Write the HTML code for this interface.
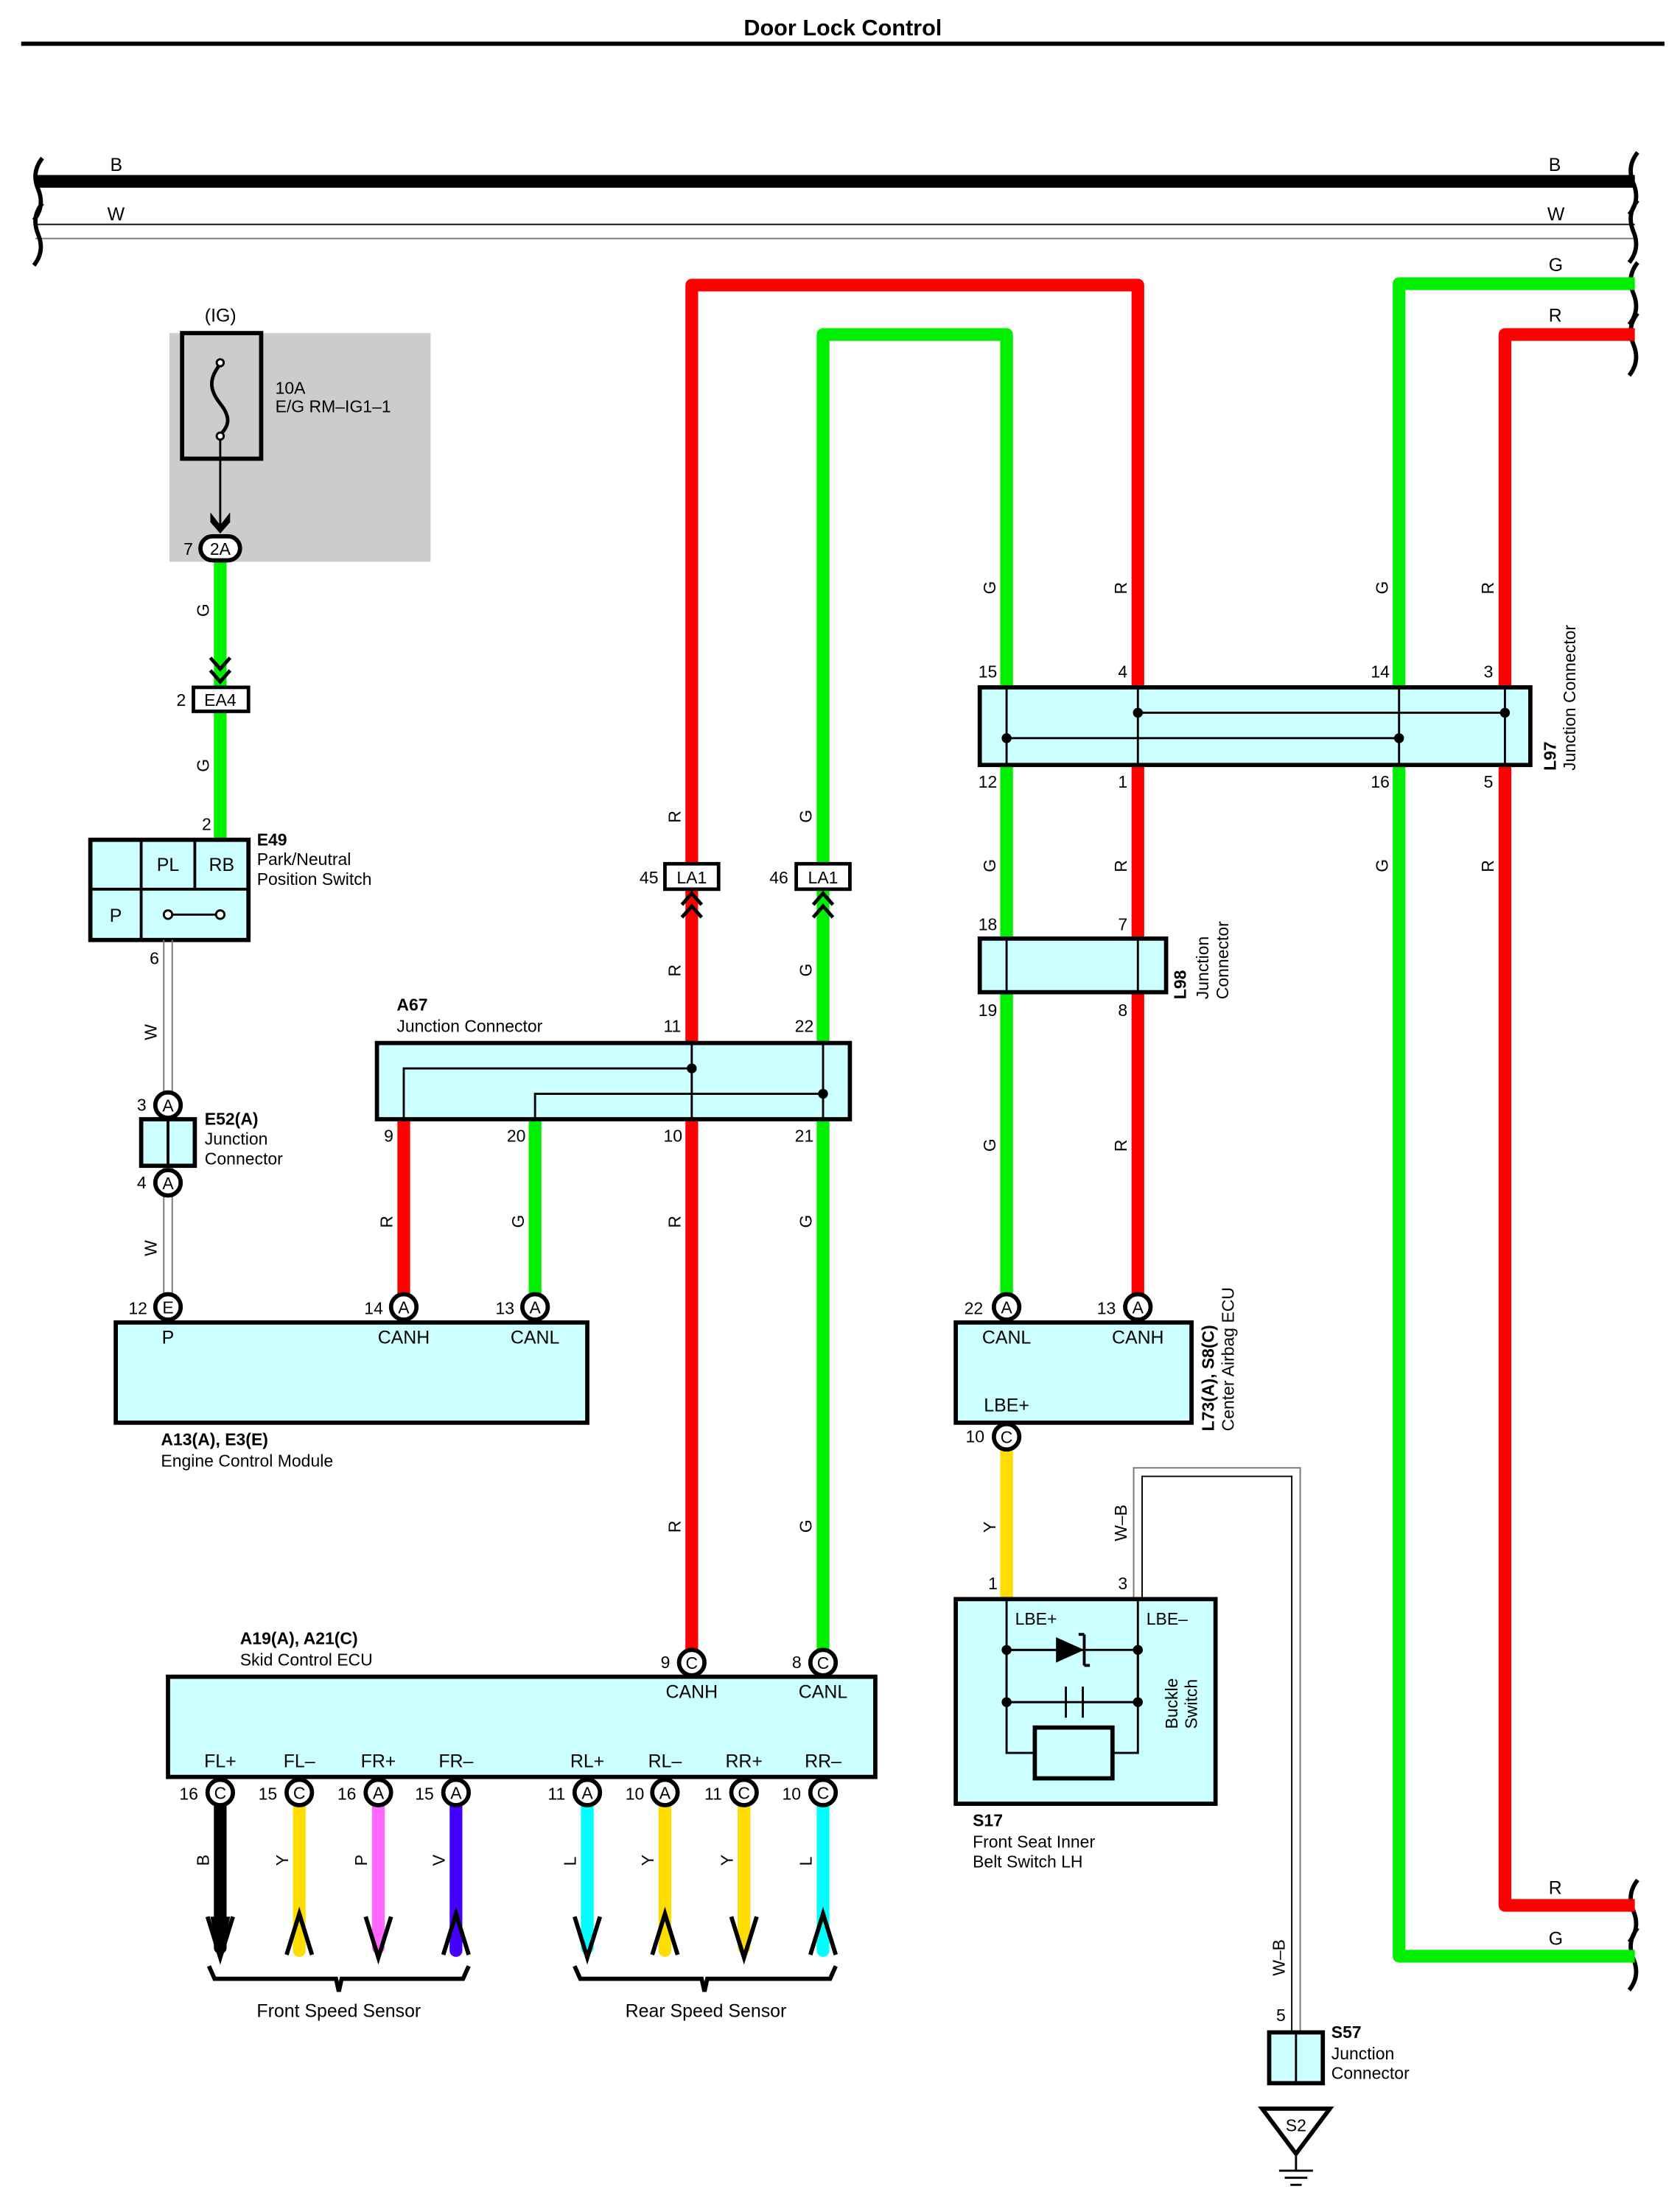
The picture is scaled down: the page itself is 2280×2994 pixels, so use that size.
<!DOCTYPE html>
<html><head><meta charset="utf-8"><style>html,body{margin:0;padding:0;background:#fff}svg{display:block}text{font-family:"Liberation Sans",Arial,sans-serif;fill:#000}</style></head>
<body>
<svg width="2280" height="2994" viewBox="0 0 1190 1563" preserveAspectRatio="none" xmlns="http://www.w3.org/2000/svg">
<defs>
<g id="pinC"><circle r="9" fill="#fff" stroke="#000" stroke-width="3"/><text y="4.5" font-size="12" text-anchor="middle">C</text></g>
<g id="pinA"><circle r="9" fill="#fff" stroke="#000" stroke-width="3"/><text y="4.5" font-size="12" text-anchor="middle">A</text></g>
<g id="pinE"><circle r="9" fill="#fff" stroke="#000" stroke-width="3"/><text y="4.5" font-size="12" text-anchor="middle">E</text></g>
</defs>
<g font-size="13">
<text x="597" y="25" font-size="16" font-weight="bold" text-anchor="middle">Door Lock Control</text>
<rect x="15" y="29.5" width="1164" height="3" fill="#000"/>

<rect x="25" y="124" width="1133" height="9" fill="#000"/>
<line x1="25" y1="159" x2="1158" y2="159" stroke="#000" stroke-width="1"/>
<line x1="25" y1="169" x2="1158" y2="169" stroke="#777" stroke-width="1"/>
<text x="78" y="121">B</text><text x="1097" y="121">B</text>
<text x="76" y="156">W</text><text x="1096" y="156">W</text>
<g fill="none" stroke="#000" stroke-width="3">
<path d="M30,112 q-8,10 -3,22 q5,12 -3,22 M30,144 q-8,10 -3,22 q5,12 -3,22"/>
<path d="M1160,108 q-8,10 -3,22 q5,12 -3,22 M1160,142 q-8,10 -3,22 q5,12 -3,22 M1160,186 q-8,10 -3,22 q5,12 -3,22 M1160,222 q-8,10 -3,22 q5,12 -3,22"/>
<path d="M1160,1332 q-8,10 -3,22 q5,12 -3,22 M1160,1366 q-8,10 -3,22 q5,12 -3,22"/>
</g>

<g fill="none" stroke-width="9" stroke-linejoin="round">
<path d="M490,1172 V202 H806 V920" stroke="#ff0000"/>
<path d="M583,1172 V237 H713 V920" stroke="#00ee00"/>
<path d="M1158,201 H991 V1386 H1158" stroke="#00ee00"/>
<path d="M1158,237 H1066 V1350 H1158" stroke="#ff0000"/>
<path d="M156,398 V595" stroke="#00ee00"/>
<path d="M286,790 V920" stroke="#ff0000"/>
<path d="M379,790 V920" stroke="#00ee00"/>
<path d="M713,1025 V1133" stroke="#ffdd00"/>
</g>
<text x="1097" y="192">G</text><text x="1097" y="228">R</text>
<text x="1097" y="1342">R</text><text x="1097" y="1378">G</text>

<rect x="120" y="236" width="185" height="162" fill="#cccccc"/>
<rect x="129" y="236" width="56" height="89" fill="none" stroke="#000" stroke-width="3"/>
<text x="145" y="228">(IG)</text>
<path d="M156,258 c-8,10 -8,18 0,28 c8,10 6,16 0,22" fill="none" stroke="#000" stroke-width="2.5"/>
<circle cx="156" cy="257" r="2.5" fill="#fff" stroke="#000" stroke-width="1.5"/>
<circle cx="156" cy="309" r="2.5" fill="#fff" stroke="#000" stroke-width="1.5"/>
<line x1="156" y1="311" x2="156" y2="372" stroke="#000" stroke-width="1.5"/>
<path d="M149,363 L156,372 L163,363 L163,370 L156,378 L149,370Z" fill="#000"/>
<text x="195" y="279" font-size="12">10A</text>
<text x="195" y="292" font-size="12">E/G RM–IG1–1</text>
<rect x="142" y="380" width="28" height="17" rx="8.5" fill="#fff" stroke="#000" stroke-width="3"/>
<text x="156" y="393" font-size="12" text-anchor="middle">2A</text>
<text x="130" y="393" font-size="12">7</text>

<g font-size="12">
<text transform="translate(148,437) rotate(-90)">G</text>
<text transform="translate(148,547) rotate(-90)">G</text>
<text transform="translate(111,737) rotate(-90)">W</text>
<text transform="translate(111,890) rotate(-90)">W</text>
<text transform="translate(482,583) rotate(-90)">R</text>
<text transform="translate(575,583) rotate(-90)">G</text>
<text transform="translate(482,692) rotate(-90)">R</text>
<text transform="translate(575,692) rotate(-90)">G</text>
<text transform="translate(278,870) rotate(-90)">R</text>
<text transform="translate(371,870) rotate(-90)">G</text>
<text transform="translate(482,870) rotate(-90)">R</text>
<text transform="translate(575,870) rotate(-90)">G</text>
<text transform="translate(482,1086) rotate(-90)">R</text>
<text transform="translate(575,1086) rotate(-90)">G</text>
<text transform="translate(705,421) rotate(-90)">G</text>
<text transform="translate(798,421) rotate(-90)">R</text>
<text transform="translate(983,421) rotate(-90)">G</text>
<text transform="translate(1058,421) rotate(-90)">R</text>
<text transform="translate(705,618) rotate(-90)">G</text>
<text transform="translate(798,618) rotate(-90)">R</text>
<text transform="translate(983,618) rotate(-90)">G</text>
<text transform="translate(1058,618) rotate(-90)">R</text>
<text transform="translate(705,816) rotate(-90)">G</text>
<text transform="translate(798,816) rotate(-90)">R</text>
<text transform="translate(705,1086) rotate(-90)">Y</text>
<text transform="translate(798,1092) rotate(-90)">W–B</text>
<text transform="translate(910,1400) rotate(-90)">W–B</text>
</g>

<path d="M149,466 L156,474 L163,466 M149,475 L156,483 L163,475" fill="none" stroke="#000" stroke-width="2.5"/>
<rect x="137" y="487" width="39" height="17" fill="#fff" stroke="#000" stroke-width="2.5"/>
<text x="156" y="500" font-size="12" text-anchor="middle">EA4</text>
<text x="125" y="500" font-size="12">2</text>

<text x="143" y="588" font-size="12">2</text>
<rect x="64" y="595" width="112" height="71" fill="#ccffff" stroke="#000" stroke-width="3"/>
<line x1="100" y1="595" x2="100" y2="666" stroke="#000" stroke-width="2"/>
<line x1="138" y1="595" x2="138" y2="630" stroke="#000" stroke-width="2"/>
<line x1="64" y1="630" x2="176" y2="630" stroke="#000" stroke-width="2"/>
<text x="119" y="617" text-anchor="middle">PL</text>
<text x="157" y="617" text-anchor="middle">RB</text>
<text x="82" y="653" text-anchor="middle">P</text>
<line x1="119" y1="648" x2="156" y2="648" stroke="#000" stroke-width="1.5"/>
<circle cx="119" cy="648" r="3" fill="#fff" stroke="#000" stroke-width="1.5"/>
<circle cx="156" cy="648" r="3" fill="#fff" stroke="#000" stroke-width="1.5"/>
<text x="182" y="599" font-weight="bold" font-size="12">E49</text>
<text x="182" y="613" font-size="12">Park/Neutral</text>
<text x="182" y="627" font-size="12">Position Switch</text>
<text x="106" y="683" font-size="12">6</text>

<g stroke-width="1">
<line x1="116" y1="666" x2="116" y2="920" stroke="#777"/>
<line x1="122" y1="666" x2="122" y2="920" stroke="#777"/>
</g>
<rect x="100" y="793" width="38" height="33" fill="#ccffff" stroke="#000" stroke-width="3"/>
<line x1="119" y1="793" x2="119" y2="826" stroke="#000" stroke-width="2"/>
<use href="#pinA" x="119" y="783"/><use href="#pinA" x="119" y="838"/>
<text x="97" y="787" font-size="12">3</text><text x="97" y="842" font-size="12">4</text>
<text x="145" y="797" font-weight="bold" font-size="12">E52(A)</text>
<text x="145" y="811" font-size="12">Junction</text>
<text x="145" y="825" font-size="12">Connector</text>

<rect x="82" y="937" width="334" height="71" fill="#ccffff" stroke="#000" stroke-width="3"/>
<use href="#pinE" x="119" y="926"/><use href="#pinA" x="286" y="926"/><use href="#pinA" x="379" y="926"/>
<text x="91" y="931" font-size="12">12</text><text x="258" y="931" font-size="12">14</text><text x="351" y="931" font-size="12">13</text>
<text x="119" y="952" text-anchor="middle">P</text>
<text x="286" y="952" text-anchor="middle">CANH</text>
<text x="379" y="952" text-anchor="middle">CANL</text>
<text x="114" y="1024" font-weight="bold" font-size="12">A13(A), E3(E)</text>
<text x="114" y="1039" font-size="12">Engine Control Module</text>

<text x="281" y="716" font-weight="bold" font-size="12">A67</text>
<text x="281" y="731" font-size="12">Junction Connector</text>
<rect x="267" y="739" width="335" height="54" fill="#ccffff" stroke="#000" stroke-width="3"/>
<g fill="none" stroke="#000" stroke-width="1.5">
<path d="M286,793 V757 H490"/><path d="M379,793 V775 H583"/>
<line x1="490" y1="739" x2="490" y2="793"/><line x1="583" y1="739" x2="583" y2="793"/>
</g>
<circle cx="490" cy="757" r="3.5"/><circle cx="583" cy="775" r="3.5"/>
<text x="470" y="731" font-size="12">11</text><text x="563" y="731" font-size="12">22</text>
<text x="272" y="809" font-size="12">9</text><text x="359" y="809" font-size="12">20</text>
<text x="470" y="809" font-size="12">10</text><text x="563" y="809" font-size="12">21</text>

<g fill="none" stroke="#000" stroke-width="2.5">
<path d="M483,641 L490,633 L497,641 M483,650 L490,642 L497,650"/>
<path d="M576,641 L583,633 L590,641 M576,650 L583,642 L590,650"/>
</g>
<rect x="471" y="612" width="38" height="18" fill="#fff" stroke="#000" stroke-width="2.5"/>
<rect x="564" y="612" width="38" height="18" fill="#fff" stroke="#000" stroke-width="2.5"/>
<text x="490" y="626" font-size="12" text-anchor="middle">LA1</text>
<text x="583" y="626" font-size="12" text-anchor="middle">LA1</text>
<text x="453" y="626" font-size="12">45</text><text x="545" y="626" font-size="12">46</text>

<rect x="694" y="487" width="390" height="55" fill="#ccffff" stroke="#000" stroke-width="3"/>
<g fill="none" stroke="#000" stroke-width="1.5">
<line x1="713" y1="487" x2="713" y2="542"/><line x1="806" y1="487" x2="806" y2="542"/>
<line x1="991" y1="487" x2="991" y2="542"/><line x1="1066" y1="487" x2="1066" y2="542"/>
<line x1="806" y1="505" x2="1066" y2="505"/><line x1="713" y1="523" x2="991" y2="523"/>
</g>
<circle cx="806" cy="505" r="3.5"/><circle cx="1066" cy="505" r="3.5"/>
<circle cx="713" cy="523" r="3.5"/><circle cx="991" cy="523" r="3.5"/>
<text x="693" y="480" font-size="12">15</text><text x="792" y="480" font-size="12">4</text>
<text x="971" y="480" font-size="12">14</text><text x="1051" y="480" font-size="12">3</text>
<text x="693" y="558" font-size="12">12</text><text x="792" y="558" font-size="12">1</text>
<text x="971" y="558" font-size="12">16</text><text x="1051" y="558" font-size="12">5</text>
<text transform="translate(1102,546) rotate(-90)" font-weight="bold" font-size="12">L97</text>
<text transform="translate(1116,546) rotate(-90)" font-size="12">Junction Connector</text>

<rect x="694" y="665" width="132" height="38" fill="#ccffff" stroke="#000" stroke-width="3"/>
<line x1="713" y1="665" x2="713" y2="703" stroke="#000" stroke-width="1.5"/>
<line x1="806" y1="665" x2="806" y2="703" stroke="#000" stroke-width="1.5"/>
<text x="693" y="659" font-size="12">18</text><text x="792" y="659" font-size="12">7</text>
<text x="693" y="720" font-size="12">19</text><text x="792" y="720" font-size="12">8</text>
<text transform="translate(840,708) rotate(-90)" font-weight="bold" font-size="12">L98</text>
<text transform="translate(856,708) rotate(-90)" font-size="12">Junction</text>
<text transform="translate(870,708) rotate(-90)" font-size="12">Connector</text>

<rect x="677" y="937" width="167" height="71" fill="#ccffff" stroke="#000" stroke-width="3"/>
<use href="#pinA" x="713" y="926"/><use href="#pinA" x="806" y="926"/><use href="#pinC" x="713" y="1018"/>
<text x="683" y="931" font-size="12">22</text><text x="777" y="931" font-size="12">13</text><text x="684" y="1022" font-size="12">10</text>
<text x="713" y="952" text-anchor="middle">CANL</text><text x="806" y="952" text-anchor="middle">CANH</text>
<text x="713" y="1000" text-anchor="middle">LBE+</text>
<text transform="translate(860,1014) rotate(-90)" font-weight="bold" font-size="12">L73(A), S8(C)</text>
<text transform="translate(874,1014) rotate(-90)" font-size="12">Center Airbag ECU</text>

<g fill="none" stroke-width="1">
<path d="M803,1133 V1040 H921 V1440" stroke="#777"/>
<path d="M809,1133 V1046 H915 V1440" stroke="#000"/>
</g>

<text x="700" y="1126" font-size="12">1</text><text x="792" y="1126" font-size="12">3</text>
<rect x="677" y="1133" width="184" height="145" fill="#ccffff" stroke="#000" stroke-width="3"/>
<text x="719" y="1151" font-size="12">LBE+</text><text x="812" y="1151" font-size="12">LBE–</text>
<g fill="none" stroke="#000" stroke-width="1.5">
<path d="M713,1133 V1206 M806,1133 V1206"/>
<rect x="713" y="1169" width="93" height="37"/>
<path d="M733,1242 H713 V1206 M788,1242 H806 V1206"/>
<path d="M713,1206 H755 M767,1206 H806"/>
<line x1="755" y1="1195" x2="755" y2="1217"/><line x1="767" y1="1195" x2="767" y2="1217"/>
</g>
<rect x="733" y="1224" width="55" height="36" fill="#ccffff" stroke="#000" stroke-width="3"/>
<path d="M748,1160 L768,1169 L748,1178Z" fill="#000"/>
<line x1="748" y1="1169" x2="713" y2="1169" stroke="#000" stroke-width="1.5"/>
<path d="M768,1158 V1180 M764,1158 L768,1158 M768,1180 L772,1180" stroke="#000" stroke-width="2" fill="none"/>
<circle cx="713" cy="1169" r="3.5"/><circle cx="806" cy="1169" r="3.5"/>
<circle cx="713" cy="1206" r="3.5"/><circle cx="806" cy="1206" r="3.5"/>
<text transform="translate(834,1225) rotate(-90)" font-size="12">Buckle</text>
<text transform="translate(848,1225) rotate(-90)" font-size="12">Switch</text>
<text x="689" y="1294" font-weight="bold" font-size="12">S17</text>
<text x="689" y="1309" font-size="12">Front Seat Inner</text>
<text x="689" y="1323" font-size="12">Belt Switch LH</text>

<text x="904" y="1432" font-size="12">5</text>
<rect x="899" y="1440" width="38" height="36" fill="#ccffff" stroke="#000" stroke-width="3"/>
<line x1="918" y1="1440" x2="918" y2="1476" stroke="#000" stroke-width="1.5"/>
<text x="943" y="1444" font-weight="bold" font-size="12">S57</text>
<text x="943" y="1459" font-size="12">Junction</text>
<text x="943" y="1473" font-size="12">Connector</text>
<path d="M894,1494 H942 L918,1526Z" fill="#fff" stroke="#000" stroke-width="3"/>
<text x="918" y="1510" font-size="12" text-anchor="middle">S2</text>
<g stroke="#000" stroke-width="1.5"><line x1="918" y1="1526" x2="918" y2="1538"/><line x1="906" y1="1538" x2="930" y2="1538"/><line x1="910" y1="1543" x2="926" y2="1543"/><line x1="914" y1="1548" x2="922" y2="1548"/></g>

<text x="170" y="1165" font-weight="bold" font-size="12">A19(A), A21(C)</text>
<text x="170" y="1180" font-size="12">Skid Control ECU</text>
<g stroke-width="9" stroke-linecap="round" fill="none">
<line x1="156" y1="1278" x2="156" y2="1380" stroke="#000"/>
<line x1="212" y1="1278" x2="212" y2="1382" stroke="#ffdd00"/>
<line x1="268" y1="1278" x2="268" y2="1380" stroke="#ff66ff"/>
<line x1="323" y1="1278" x2="323" y2="1382" stroke="#4400ff"/>
<line x1="416" y1="1278" x2="416" y2="1380" stroke="#00ffff"/>
<line x1="471" y1="1278" x2="471" y2="1382" stroke="#ffdd00"/>
<line x1="527" y1="1278" x2="527" y2="1380" stroke="#ffdd00"/>
<line x1="583" y1="1278" x2="583" y2="1382" stroke="#00ffff"/>
</g>
<g fill="none" stroke="#000" stroke-width="3">
<path d="M147,1358 L156,1387 L165,1358"/><path d="M203,1385 L212,1356 L221,1385"/>
<path d="M259,1358 L268,1387 L277,1358"/><path d="M314,1385 L323,1356 L332,1385"/>
<path d="M407,1358 L416,1387 L425,1358"/><path d="M462,1385 L471,1356 L480,1385"/>
<path d="M518,1358 L527,1387 L536,1358"/><path d="M574,1385 L583,1356 L592,1385"/>
<path d="M148,1393 L152,1402 L238,1402 L240,1411 L242,1402 L328,1402 L332,1393"/>
<path d="M407,1393 L411,1402 L497,1402 L499,1411 L501,1402 L588,1402 L592,1393"/>
</g>
<path d="M149,1358 L156,1388 L163,1358Z" fill="#000"/>
<rect x="119" y="1188" width="501" height="71" fill="#ccffff" stroke="#000" stroke-width="3"/>
<use href="#pinC" x="490" y="1178"/><use href="#pinC" x="583" y="1178"/>
<text x="468" y="1182" font-size="12">9</text><text x="561" y="1182" font-size="12">8</text>
<text x="490" y="1203" text-anchor="middle">CANH</text><text x="583" y="1203" text-anchor="middle">CANL</text>
<g text-anchor="middle">
<text x="156" y="1252">FL+</text><text x="212" y="1252">FL–</text><text x="268" y="1252">FR+</text><text x="323" y="1252">FR–</text>
<text x="416" y="1252">RL+</text><text x="471" y="1252">RL–</text><text x="527" y="1252">RR+</text><text x="583" y="1252">RR–</text>
</g>
<use href="#pinC" x="156" y="1270"/><use href="#pinC" x="212" y="1270"/><use href="#pinA" x="268" y="1270"/><use href="#pinA" x="323" y="1270"/>
<use href="#pinA" x="416" y="1270"/><use href="#pinA" x="471" y="1270"/><use href="#pinC" x="527" y="1270"/><use href="#pinC" x="583" y="1270"/>
<g font-size="12">
<text x="127" y="1275">16</text><text x="183" y="1275">15</text><text x="239" y="1275">16</text><text x="294" y="1275">15</text>
<text x="388" y="1275">11</text><text x="443" y="1275">10</text><text x="499" y="1275">11</text><text x="554" y="1275">10</text>
<text transform="translate(148,1322) rotate(-90)">B</text><text transform="translate(204,1322) rotate(-90)">Y</text>
<text transform="translate(260,1322) rotate(-90)">P</text><text transform="translate(315,1322) rotate(-90)">V</text>
<text transform="translate(408,1322) rotate(-90)">L</text><text transform="translate(463,1322) rotate(-90)">Y</text>
<text transform="translate(519,1322) rotate(-90)">Y</text><text transform="translate(575,1322) rotate(-90)">L</text>
</g>
<text x="240" y="1429" text-anchor="middle">Front Speed Sensor</text>
<text x="500" y="1429" text-anchor="middle">Rear Speed Sensor</text>
</g>
</svg>
</body></html>
